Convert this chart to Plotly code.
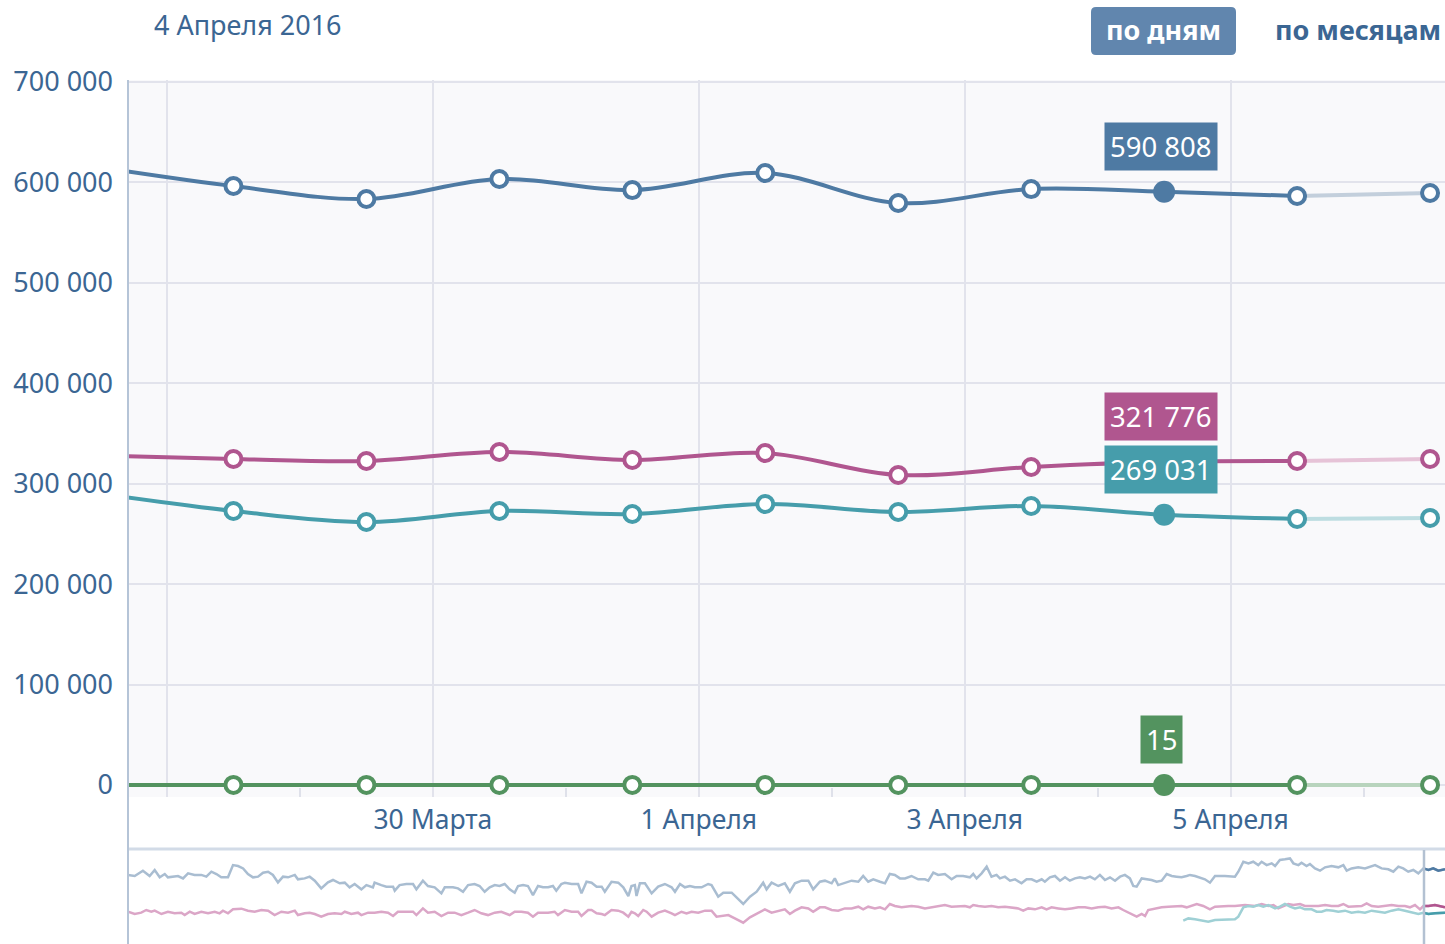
import plotly.graph_objects as go
import numpy as np

# ---------------- main chart data ----------------
dates = ['2016-03-27 12:00', '2016-03-28 12:00', '2016-03-29 12:00', '2016-03-30 12:00',
         '2016-03-31 12:00', '2016-04-01 12:00', '2016-04-02 12:00', '2016-04-03 12:00',
         '2016-04-04 12:00', '2016-04-05 12:00', '2016-04-06 12:00']
blue_vals = [615000, 596400, 583500, 603400, 592400, 609400, 579500, 593400, 590808, 586500, 589500]
pink_vals = [328000, 324600, 322600, 331600, 323600, 330600, 308700, 316600, 321776, 322600, 324600]
teal_vals = [290000, 272800, 261900, 272800, 269800, 279800, 271800, 277800, 269031, 264900, 265900]
green_vals = [14, 12, 16, 13, 15, 14, 12, 13, 15, 14, 11]
highlight_idx = 8           # 4 Апреля
complete_until = 9          # last complete point (5 Апреля)

y_tickvals = [0, 100000, 200000, 300000, 400000, 500000, 600000, 700000]
y_ticktext = ['0', '100 000', '200 000', '300 000', '400 000', '500 000', '600 000', '700 000']
x_tickvals = ['2016-03-28', '2016-03-30', '2016-04-01', '2016-04-03', '2016-04-05']
x_ticktext = ['', '30 Марта', '1 Апреля', '3 Апреля', '5 Апреля']
x_minorvals = ['2016-03-29', '2016-03-31', '2016-04-02', '2016-04-04', '2016-04-06']

title_text = '4 Апреля 2016'
btn_day = 'по дням'
btn_month = 'по месяцам'

# ---------------- navigator data (days from start, thousands) ----------------
nav_blue_day = [0, 3.2, 7.1, 10.3, 12.7, 15.1, 17.5, 19.0, 23.8, 26.2, 28.6, 31.7, 34.9, 37.3, 39.7, 42.1, 44.4,
                47.6, 50.0, 52.4, 54.8, 57.1, 59.5, 61.9, 64.3, 66.7, 69.0, 71.4, 73.8, 76.2, 79.4, 80.9, 84.1,
                86.5, 88.9, 92.0, 95.2, 97.6, 100.8, 103.2, 105.5, 107.9, 111.1, 113.5, 116.6, 117.4, 120.6,
                123.0, 126.2, 127.0, 129.3, 132.5, 135.7, 137.3, 140.4, 142.8, 146.0, 149.2, 150.8, 154.7,
                157.1, 159.5, 161.9, 165.0, 167.4, 169.8, 172.2, 174.6, 176.9, 179.3, 181.7, 184.1, 185.7,
                188.1, 190.4, 192.8, 195.2, 197.6, 200.0, 202.3, 203.9, 206.3,
                208.0, 211.2, 214.3, 215.9, 218.3, 220.7, 223.1, 225.5, 227.0, 230.2, 233.4, 235.8, 238.2,
                239.7, 241.3, 242.1, 243.7, 246.1, 249.3, 252.4, 255.6, 258.8, 260.4, 262.8, 265.1, 267.5,
                269.9, 273.1, 276.2, 277.8, 281.0, 283.4, 287.4, 290.5, 292.9, 296.1, 299.3, 302.4, 304.0,
                306.4, 309.6, 312.7, 315.1, 317.5, 320.7, 323.9, 326.2, 329.4, 331.8, 335.0, 336.5, 338.1,
                341.3, 344.5, 347.7, 350.0, 352.4, 354.8, 358.0, 360.4, 362.7, 365.1, 367.5, 369.9, 373.0,
                376.2, 379.4, 381.0, 383.4, 385.7, 388.9, 392.1, 394.5, 397.6, 400.8, 402.4, 404.0, 406.4,
                408.8, 411.1, 413.5, 415.1,
                417.5, 419.9, 422.3, 425.4, 427.8, 430.2, 432.6, 435.0, 436.5, 438.9, 441.3, 443.7, 446.1,
                448.4, 450.8, 453.2, 455.6, 458.0, 460.3, 462.7, 465.1, 467.5, 469.9, 472.3, 474.6, 477.0,
                478.6, 480.2, 482.6, 485.0, 487.3, 489.7, 492.1, 494.5, 496.9, 499.2, 501.6, 504.0, 505.6,
                508.0, 510.3, 512.7, 515.1, 517.5, 522.2, 527.0, 528.6, 531.0, 533.4, 535.7, 538.1, 539.7,
                542.1, 544.5, 546.1, 548.4, 550.8, 553.2, 554.8, 557.2, 558.7, 561.1, 562.7, 565.1, 567.5,
                569.9, 573.0, 576.2, 578.6, 580.2, 582.5, 585.7, 588.9, 591.3, 593.7, 596.8, 600.0, 602.4,
                604.8, 607.1, 609.5, 611.9, 614.3, 616.7, 619.1, 621.4, 623.8, 627.0]
nav_blue_k = [570, 562, 602, 562, 607, 552, 577, 552, 562, 544, 582, 570, 570, 557, 594, 577, 552,
              552, 644, 637, 619, 577, 552, 557, 587, 594, 570, 514, 557, 552, 570, 537, 544,
              557, 527, 469, 514, 532, 507, 512, 477, 502, 462, 494, 477, 512, 494,
              482, 482, 452, 494, 502, 502, 462, 527, 487, 477, 432, 477, 477,
              469, 444, 494, 502, 487, 444, 477, 494, 487, 502, 462, 437, 487,
              494, 487, 419, 487, 477, 477, 487, 452, 502,
              512, 502, 502, 432, 519, 512, 482, 482, 444, 519, 512, 477, 412,
              487, 494, 412, 507, 507, 432, 482, 502, 477, 444, 502, 477, 487,
              477, 477, 502, 494, 407, 437, 437, 387, 352, 407, 444, 512, 462,
              512, 487, 507, 444, 507, 527, 527, 462, 519, 527, 507, 544, 494,
              512, 527, 519, 562, 519, 537, 519, 507, 577, 570, 544, 544, 562,
              537, 537, 527, 587, 570, 577, 537, 562, 562, 552, 577, 544, 582,
              632, 557, 570, 544,
              557, 527, 537, 507, 537, 537, 519, 537, 519, 552, 562, 527, 552,
              527, 544, 552, 544, 557, 537, 570, 532, 552, 527, 557, 570, 544,
              487, 482, 544, 537, 532, 519, 527, 577, 562, 557, 552, 562, 570,
              562, 552, 537, 512, 562, 562, 557, 594, 669, 657, 669, 644, 669,
              644, 657, 637, 682, 687, 694, 657, 644, 662, 637, 652, 619, 602,
              627, 637, 627, 644, 602, 619, 627, 619, 632, 644, 619, 612, 594,
              632, 619, 594, 607, 582, 619, 607, 619, 602, 612]

nav_pink_day = [0, 3.2, 6.3, 8.7, 11.1, 12.7, 15.9, 19.0, 22.2, 25.4, 27.0, 29.4, 31.7, 34.9, 38.1, 41.3, 43.6,
                45.2, 47.6, 50.0, 54.0, 57.1, 60.3, 63.5, 66.7, 69.8, 73.0, 76.2, 79.4, 80.9, 84.1, 86.5, 88.9,
                92.0, 95.2, 98.4, 101.6, 103.2, 106.3, 109.5, 111.1, 114.3, 117.4, 120.6, 123.8, 126.2, 128.5,
                132.5, 135.7, 137.3, 140.4, 142.8, 146.0, 149.2, 152.4, 155.5, 158.7, 161.9, 165.0, 168.2,
                171.4, 174.6, 177.7, 181.7, 184.1, 187.3, 190.4, 192.8, 195.2, 200.0, 203.1, 204.7,
                208.0, 211.2, 214.3, 215.9, 219.1, 220.7, 223.1, 225.5, 227.0, 230.2, 233.4, 235.8, 238.2,
                239.7, 241.3, 242.9, 245.3, 246.9, 249.3, 252.4, 255.6, 258.8, 260.4, 263.5, 265.9, 268.3,
                271.5, 274.7, 277.8, 280.2, 282.6, 285.8, 288.9, 292.9, 296.1, 299.3, 303.2, 306.4, 309.6,
                312.7, 315.1, 317.5, 320.7, 323.9, 326.2, 329.4, 331.8, 335.0, 338.1, 341.3, 344.5, 347.7,
                350.0, 352.4, 355.6, 358.0, 360.4, 362.7, 365.1, 368.3, 373.0, 376.2, 379.4, 382.6, 385.7,
                388.9, 392.1, 395.3, 398.4, 400.8, 402.4, 404.8, 408.0, 411.1, 414.3,
                417.5, 420.7, 423.8, 426.2, 428.6, 431.8, 435.0, 437.3, 439.7, 442.9, 446.1, 449.2, 452.4,
                455.6, 458.8, 461.9, 465.1, 468.3, 471.5, 473.8, 476.2, 478.6, 480.2, 482.6, 484.2, 485.7,
                488.9, 492.1, 495.3, 498.4, 501.6, 504.0, 506.4, 508.8, 511.9, 515.1, 517.5, 520.7, 523.8,
                527.0, 531.8, 536.5, 539.7, 542.9, 545.3, 547.6, 550.0, 552.4, 554.8, 558.0, 560.3, 563.5,
                566.7, 569.9, 573.0, 576.2, 578.6, 581.0, 584.1, 587.3, 589.7, 592.1, 595.2, 598.4, 601.6,
                604.8, 607.9, 610.3, 612.7, 615.1, 616.7, 619.1, 622.2, 627.0]
nav_pink_k = [294, 277, 287, 307, 294, 302, 277, 294, 282, 287, 269, 294, 277, 294, 282, 294, 282,
              302, 282, 312, 317, 302, 294, 307, 302, 269, 294, 287, 302, 269, 282, 287, 277,
              257, 277, 282, 277, 294, 277, 287, 269, 287, 287, 294, 287, 262, 294,
              294, 294, 269, 319, 287, 294, 262, 287, 287, 269, 287, 307, 282,
              269, 287, 294, 269, 294, 294, 287, 257, 287, 287, 294, 269,
              307, 294, 294, 262, 307, 307, 282, 277, 269, 307, 302, 287, 257,
              294, 282, 262, 307, 294, 257, 287, 302, 282, 269, 294, 282, 294,
              287, 302, 302, 257, 262, 269, 244, 212, 252, 277, 312, 287, 302,
              312, 277, 302, 327, 319, 294, 327, 327, 307, 302, 319, 319, 332,
              312, 332, 319, 327, 312, 352, 337, 327, 337, 332, 319, 327, 337,
              344, 332, 337, 337, 327, 344, 337, 332, 337, 327,
              332, 327, 319, 302, 319, 312, 327, 312, 327, 319, 312, 319, 327,
              327, 319, 327, 332, 319, 327, 307, 287, 269, 257, 277, 262, 307,
              319, 327, 332, 337, 337, 327, 337, 352, 337, 312, 332, 337, 337,
              337, 344, 337, 352, 337, 344, 319, 337, 352, 344, 352, 337, 337,
              337, 344, 337, 337, 352, 332, 337, 337, 357, 337, 332, 337, 344,
              337, 337, 327, 344, 312, 337, 337, 344, 327]

nav_teal_day = [502.4, 504.8, 508.0, 511.1, 514.3, 517.5, 522.2, 527.0, 528.6, 531.0, 533.4, 535.7, 538.1,
                540.5, 542.9, 546.1, 548.4, 550.8, 553.2, 555.6, 558.0, 560.3, 563.5, 565.9, 568.3, 570.6,
                573.8, 576.2, 579.4, 582.5, 585.7, 588.9, 592.1, 595.2, 598.4, 601.6, 604.8, 607.9, 611.1,
                614.3, 616.7, 619.1, 622.2, 627.0]
nav_teal_k = [227, 244, 237, 227, 219, 232, 232, 237, 257, 327, 337, 332, 344,
              332, 344, 319, 332, 352, 332, 319, 327, 312, 312, 294, 294, 307,
              302, 294, 302, 287, 294, 287, 302, 294, 287, 302, 312, 302, 287,
              277, 287, 277, 282, 287]
nav_window_start = 617.0
nav_range = [0, 627.0]

# ---------------- styling ----------------
C_BLUE, C_PINK, C_TEAL, C_GREEN = '#4e7aa3', '#b0568f', '#469dab', '#53935f'
F_BLUE, F_PINK, F_TEAL, F_GREEN = '#c3cfdc', '#e6c3d7', '#bddde1', '#b8d4bd'
N_BLUE, N_PINK, N_TEAL = '#a9bdd1', '#dba6c7', '#9fd0d5'
TXT = '#3b6693'
FONT = 'Noto Sans'

W, H = 1445, 944
ML, MT = 128, 80
PW, PH = W - ML, H - MT


def px(x, y):
    return (x - ML) / PW, (H - y) / PH


fig = go.Figure()

series = [(blue_vals, C_BLUE, F_BLUE), (pink_vals, C_PINK, F_PINK),
          (teal_vals, C_TEAL, F_TEAL), (green_vals, C_GREEN, F_GREEN)]
for vals, col, fcol in series:
    # faded, incomplete segment
    fig.add_trace(go.Scatter(x=dates[complete_until:], y=vals[complete_until:], mode='lines',
                             line=dict(color=fcol, width=4), hoverinfo='skip', showlegend=False,
                             xaxis='x', yaxis='y'))
    fig.add_trace(go.Scatter(x=dates[:complete_until + 1], y=vals[:complete_until + 1], mode='lines',
                             line=dict(color=col, width=4, shape='spline', smoothing=1.0),
                             hoverinfo='skip', showlegend=False, xaxis='x', yaxis='y'))
    mk_idx = [i for i in range(1, len(dates)) if i != highlight_idx]
    fig.add_trace(go.Scatter(x=[dates[i] for i in mk_idx], y=[vals[i] for i in mk_idx], mode='markers',
                             marker=dict(size=16, color='white', line=dict(color=col, width=4)),
                             hoverinfo='skip', showlegend=False, xaxis='x', yaxis='y'))
    fig.add_trace(go.Scatter(x=[dates[highlight_idx]], y=[vals[highlight_idx]], mode='markers',
                             marker=dict(size=22, color=col, line=dict(color=col, width=0)),
                             hoverinfo='skip', showlegend=False, xaxis='x', yaxis='y'))


def fmt(v):
    return f'{v:,}'.replace(',', ' ')


for vals, col, _ in series:
    fig.add_annotation(x=dates[highlight_idx], y=vals[highlight_idx], xref='x', yref='y',
                       text=fmt(vals[highlight_idx]), showarrow=False, xshift=-3, yshift=45,
                       bgcolor=col, borderpad=5, font=dict(family=FONT, size=27.5, color='white'))

# navigator
for d, v, lc, dc in [(nav_blue_day, nav_blue_k, N_BLUE, C_BLUE),
                     (nav_pink_day, nav_pink_k, N_PINK, C_PINK),
                     (nav_teal_day, nav_teal_k, N_TEAL, C_TEAL)]:
    d = np.array(d)
    v = np.array(v)
    fig.add_trace(go.Scatter(x=d, y=v, mode='lines', line=dict(color=lc, width=2.5),
                             hoverinfo='skip', showlegend=False, xaxis='x2', yaxis='y2'))
    m = d >= nav_window_start - 0.5
    fig.add_trace(go.Scatter(x=d[m], y=v[m], mode='lines', line=dict(color=dc, width=2.5),
                             hoverinfo='skip', showlegend=False, xaxis='x2', yaxis='y2'))

main_bottom = px(0, 797)[1]
nav_top = px(0, 850)[1]

fig.update_layout(
    width=W, height=H,
    margin=dict(l=ML, r=0, t=MT, b=0, autoexpand=False),
    paper_bgcolor='white',
    plot_bgcolor='rgba(0,0,0,0)',
    font=dict(family=FONT, color=TXT),
    xaxis=dict(domain=[0, 1], anchor='y', type='date', automargin=False,
               range=['2016-03-27 16:58', '2016-04-06 14:42'],
               tickmode='array', tickvals=x_tickvals, ticktext=x_ticktext,
               showgrid=True, gridcolor='#e2e3ec', gridwidth=1.5, ticks='',
               tickfont=dict(size=26.5, color=TXT, family=FONT), ticklabelstandoff=4,
               minor=dict(tickmode='array', tickvals=x_minorvals, ticks='inside', ticklen=9,
                          tickwidth=1.5, tickcolor='#dfe1ea', showgrid=False),
               showline=False, zeroline=False, fixedrange=True),
    yaxis=dict(domain=[main_bottom, 1], anchor='x', range=[-12000, 702000], automargin=False,
               tickmode='array', tickvals=y_tickvals, ticktext=y_ticktext,
               showgrid=True, gridcolor='#e2e3ec', gridwidth=1.5, ticks='',
               tickfont=dict(size=27, color=TXT, family=FONT), ticklabelstandoff=14,
               showline=False, zeroline=False),
    xaxis2=dict(domain=[0, 1], anchor='y2', range=nav_range, showgrid=False, showticklabels=False,
                ticks='', zeroline=False, showline=False, automargin=False),
    yaxis2=dict(domain=[0, nav_top], anchor='x2', range=[52, 757], showgrid=False, automargin=False,
                showticklabels=False, ticks='', zeroline=False, showline=False),
)

# plot background of main area
x0, y0 = px(128, 797)
x1, y1 = px(1445, 80)
fig.add_shape(type='rect', xref='paper', yref='paper', x0=x0, x1=x1, y0=y0, y1=y1,
              fillcolor='#f9f9fb', line_width=0, layer='below')
# navigator top border
fig.add_shape(type='line', xref='paper', yref='paper', x0=0, x1=1, y0=px(0, 849)[1], y1=px(0, 849)[1],
              line=dict(color='#d2dbe7', width=3))
# left axis line
fig.add_shape(type='line', xref='paper', yref='paper', x0=0, x1=0, y0=0, y1=1,
              line=dict(color='#b5c4d7', width=2))
# navigator window line
fig.add_shape(type='line', xref='x2', yref='paper', x0=nav_window_start, x1=nav_window_start,
              y0=0, y1=nav_top, line=dict(color='#b3c1d2', width=2.5))

# title
tx, ty = px(152, 25)
fig.add_annotation(x=tx, y=ty, xref='paper', yref='paper', text=title_text, showarrow=False,
                   xanchor='left', yanchor='middle', font=dict(family=FONT, size=27, color=TXT))

# buttons
bx0, by0 = 1091, 7
bx1, by1 = 1236, 55
r = 5


def P(x, y):
    a, b = px(x, y)
    return f'{a:.5f},{b:.5f}'


path = (f'M {P(bx0 + r, by0)} L {P(bx1 - r, by0)} Q {P(bx1, by0)} {P(bx1, by0 + r)} '
        f'L {P(bx1, by1 - r)} Q {P(bx1, by1)} {P(bx1 - r, by1)} L {P(bx0 + r, by1)} '
        f'Q {P(bx0, by1)} {P(bx0, by1 - r)} L {P(bx0, by0 + r)} Q {P(bx0, by0)} {P(bx0 + r, by0)} Z')
fig.add_shape(type='path', xref='paper', yref='paper', path=path, fillcolor='#6186ae', line_width=0)
cx, cy = px((bx0 + bx1) / 2, 30)
fig.add_annotation(x=cx, y=cy, xref='paper', yref='paper', text=btn_day, showarrow=False,
                   xanchor='center', yanchor='middle',
                   font=dict(family=FONT, size=27, color='white', weight='bold'))
mx, my = px(1358, 30)
fig.add_annotation(x=mx, y=my, xref='paper', yref='paper', text=btn_month, showarrow=False,
                   xanchor='center', yanchor='middle',
                   font=dict(family=FONT, size=27, color=TXT, weight='bold'))

fig.write_html('out.html', config={'displayModeBar': False, 'staticPlot': False},
               post_script="document.body.style.margin='0';document.body.style.overflow='hidden';")
